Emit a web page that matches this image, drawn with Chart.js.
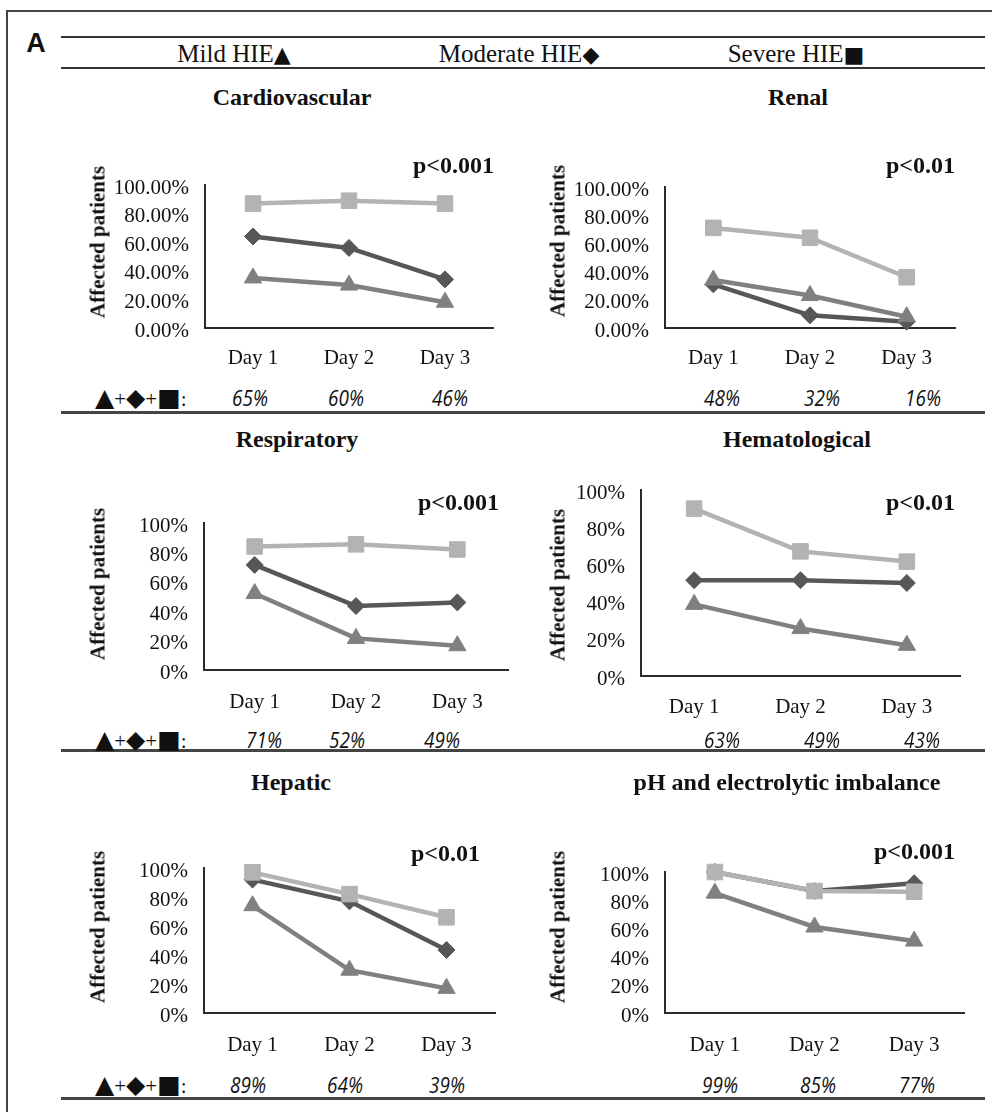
<!DOCTYPE html>
<html>
<head>
<meta charset="utf-8">
<script src="https://cdn.jsdelivr.net/npm/chart.js@4.4.1/dist/chart.umd.min.js"></script>
<style>
  body { margin: 0; background: #fff; width: 992px; height: 1112px; position: relative; overflow: hidden;
         font-family: "Liberation Serif", serif; color: #111; }
  .t { position: absolute; white-space: nowrap; transform: translate(-50%, -50%); line-height: 1; }
  .hl { position: absolute; height: 2px; background: #333; }
  .title { font-weight: bold; font-size: 24px; }
  .pv { position: absolute; white-space: nowrap; transform: translate(-100%, -50%); font-weight: bold; font-size: 24px; line-height: 1; }
  .yt { position: absolute; white-space: nowrap; transform: translate(-50%, -50%) rotate(-90deg); font-weight: bold; font-size: 21px; line-height: 1; }
  .pct { font-family: "Open Sans", sans-serif; font-style: italic; font-size: 22px; transform: translate(-50%, -50%) scaleX(0.86); }
  .sym { position: absolute; white-space: nowrap; transform: translateY(-50%); font-family: "DejaVu Sans", sans-serif; font-size: 25px; line-height: 1; }
  .sym span { font-family: "Liberation Serif", serif; font-size: 21px; }
  .leg { font-size: 25px; }
  .leg span { font-family: "DejaVu Sans", sans-serif; font-size: 22px; }
</style>
</head>
<body>
<script>
const days = ['Day 1', 'Day 2', 'Day 3'];

// % of affected patients per day
const cardioMild = [35, 30, 18];
const cardioModerate = [64, 56, 34];
const cardioSevere = [87, 89, 87];
const cardioAll = ['65%', '60%', '46%'];

const renalMild = [34, 23, 8];
const renalModerate = [31, 9, 4.5];
const renalSevere = [71, 64, 36];
const renalAll = ['48%', '32%', '16%'];

const respMild = [52, 21.5, 16.5];
const respModerate = [71.5, 43.5, 46];
const respSevere = [84, 85.5, 82];
const respAll = ['71%', '52%', '49%'];

const hemaMild = [38.5, 25.5, 16.5];
const hemaModerate = [51.5, 51.5, 50];
const hemaSevere = [90, 67, 61.5];
const hemaAll = ['63%', '49%', '43%'];

const hepMild = [74, 29.5, 17];
const hepModerate = [92, 77, 43.5];
const hepSevere = [97, 82, 66];
const hepAll = ['89%', '64%', '39%'];

const phMild = [85, 61, 51];
const phModerate = [100, 86.5, 92];
const phSevere = [100, 86.5, 86];
const phAll = ['99%', '85%', '77%'];

const titles = ['Cardiovascular', 'Renal', 'Respiratory', 'Hematological', 'Hepatic', 'pH and electrolytic imbalance'];
const pValues = ['p<0.001', 'p<0.01', 'p<0.001', 'p<0.01', 'p<0.01', 'p<0.001'];

const series = [
  [cardioMild, cardioModerate, cardioSevere, cardioAll],
  [renalMild, renalModerate, renalSevere, renalAll],
  [respMild, respModerate, respSevere, respAll],
  [hemaMild, hemaModerate, hemaSevere, hemaAll],
  [hepMild, hepModerate, hepSevere, hepAll],
  [phMild, phModerate, phSevere, phAll]
];

// where each panel sits on the page
const layout = [
  { plot: [205, 185, 495, 328], title: [292, 97], yTitle: [98, 242], p: [494, 165], row: 397, vals: [250, 346, 450], xPad: 18, twoDec: true, sym: true },
  { plot: [665, 187, 957, 328], title: [798, 97], yTitle: [558, 241], p: [955, 165], row: 397, vals: [722, 822, 923], xPad: 18, twoDec: true, sym: false },
  { plot: [204, 523, 510, 670], title: [297, 439], yTitle: [98, 584], p: [499, 502], row: 739, vals: [264, 347, 442], xPad: 20, twoDec: false, sym: true },
  { plot: [641, 490, 962, 676], title: [797, 439], yTitle: [558, 585], p: [955, 502], row: 739, vals: [722, 822, 922], xPad: 19, twoDec: false, sym: false },
  { plot: [204, 868, 497, 1013], title: [291, 782], yTitle: [98, 927], p: [480, 853], row: 1084, vals: [248, 345, 447], xPad: 20, twoDec: false, sym: true },
  { plot: [665, 872, 966, 1013], title: [787, 782], yTitle: [558, 927], p: [955, 851], row: 1084, vals: [720, 818, 917], xPad: 20, twoDec: false, sym: false }
];

function addDiv(cls, html, style) {
  const d = document.createElement('div');
  d.className = cls;
  d.innerHTML = html;
  Object.assign(d.style, style);
  document.body.appendChild(d);
  return d;
}

// frame, header and separators
addDiv('hl', '', { left: '6px', top: '10px', width: '986px', height: '2px', background: '#444' });
addDiv('hl', '', { left: '6px', top: '10px', width: '2px', height: '1102px', background: '#444' });
addDiv('t', 'A', { left: '36px', top: '43px', fontFamily: '"Liberation Sans", sans-serif', fontWeight: 'bold', fontSize: '27px' });
addDiv('hl', '', { left: '61px', top: '36px', width: '924px' });
addDiv('hl', '', { left: '61px', top: '67px', width: '924px' });
addDiv('t leg', 'Mild HIE<span>▲</span>', { left: '234px', top: '53px' });
addDiv('t leg', 'Moderate HIE<span>◆</span>', { left: '519px', top: '53px' });
addDiv('t leg', 'Severe HIE<span>■</span>', { left: '796px', top: '53px' });
[411, 749, 1097].forEach(y => addDiv('hl', '', { left: '61px', top: y + 'px', width: '924px', height: '3px', background: '#444' }));

const tickFont = { family: 'Liberation Serif', size: 21 };

layout.forEach((L, i) => {
  const [mild, moderate, severe, all] = series[i];
  const [l, t, r, b] = L.plot;
  const cl = l - 110, ct = t - 14, cw = r + 10 - cl, ch = b + 50 - ct;
  const c = document.createElement('canvas');
  c.width = cw; c.height = ch;
  Object.assign(c.style, { position: 'absolute', left: cl + 'px', top: ct + 'px', width: cw + 'px', height: ch + 'px' });
  document.body.appendChild(c);

  new Chart(c, {
    type: 'line',
    data: {
      labels: days,
      datasets: [
        { label: 'Severe HIE', data: severe, borderColor: '#b3b3b3', backgroundColor: '#b3b3b3', pointStyle: 'rect', pointRadius: 11 },
        { label: 'Mild HIE', data: mild, borderColor: '#808080', backgroundColor: '#808080', pointStyle: 'triangle', pointRadius: 10 },
        { label: 'Moderate HIE', data: moderate, borderColor: '#575757', backgroundColor: '#575757', pointStyle: 'rectRot', pointRadius: 8.5 }
      ]
    },
    options: {
      responsive: false,
      animation: false,
      devicePixelRatio: 1,
      layout: { padding: { top: 14, right: 10, left: 0, bottom: 0 } },
      plugins: { legend: { display: false }, tooltip: { enabled: false } },
      elements: {
        line: { borderWidth: 4.5, tension: 0 },
        point: { borderWidth: 1 }
      },
      datasets: { line: { clip: false } },
      scales: {
        x: {
          offset: true,
          grid: { display: false, drawTicks: false },
          border: { display: true, color: '#2b2b2b', width: 2 },
          ticks: { padding: L.xPad, color: '#111', font: tickFont, autoSkip: false, maxRotation: 0 },
          afterFit: s => { s.height = 50; s.paddingLeft = 0; s.paddingRight = 0; }
        },
        y: {
          min: 0, max: 100,
          grid: { display: false, drawTicks: false },
          border: { display: true, color: '#2b2b2b', width: 2 },
          ticks: {
            stepSize: 20, padding: 16, labelOffset: 3, color: '#111', font: tickFont, autoSkip: false,
            callback: v => L.twoDec ? v.toFixed(2) + '%' : v + '%'
          },
          afterFit: s => { s.width = 110; s.paddingTop = 0; s.paddingBottom = 0; }
        }
      }
    }
  });

  addDiv('t title', titles[i], { left: L.title[0] + 'px', top: L.title[1] + 'px' });
  addDiv('pv', pValues[i], { left: L.p[0] + 'px', top: L.p[1] + 'px' });
  addDiv('yt', 'Affected patients', { left: L.yTitle[0] + 'px', top: L.yTitle[1] + 'px' });
  if (L.sym) addDiv('sym', '▲<span>+</span>◆<span>+</span>■<span>:</span>', { left: '95px', top: L.row + 'px' });
  all.forEach((v, k) => addDiv('t pct', v, { left: L.vals[k] + 'px', top: L.row + 'px' }));
});
</script>
</body>
</html>
